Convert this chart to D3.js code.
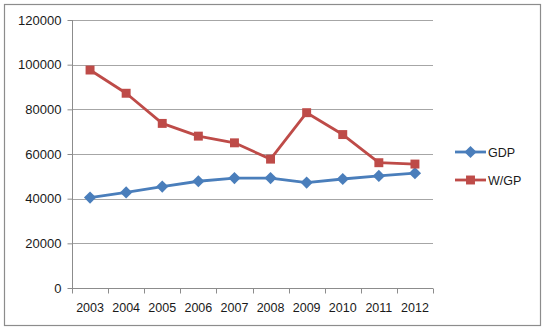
<!DOCTYPE html>
<html>
<head>
<meta charset="utf-8">
<script src="https://cdn.jsdelivr.net/npm/d3@7"></script>
<style>
  body { margin: 0; background: #fff; }
  text { font-family: "Liberation Sans", Arial, sans-serif; font-size: 12.5px; fill: #1a1a1a; }
</style>
</head>
<body>
<svg id="chart"></svg>
<script>
const years = ["2003", "2004", "2005", "2006", "2007", "2008", "2009", "2010", "2011", "2012"];
const gdp = [40500, 42800, 45400, 47800, 49200, 49200, 47200, 48800, 50200, 51400];
const wgp = [97600, 87200, 73700, 68000, 65000, 57700, 78500, 68700, 56100, 55500];
const yTicks = [0, 20000, 40000, 60000, 80000, 100000, 120000];

const width = 546, height = 332;
const margin = { left: 72, right: 113, top: 20, bottom: 44 };

const svg = d3.select("#chart")
    .attr("width", width)
    .attr("height", height)
    .attr("viewBox", [0, 0, width, height]);

// outer frame
svg.append("rect")
    .attr("x", 4.5).attr("y", 4.5)
    .attr("width", 536).attr("height", 321)
    .attr("fill", "#fff")
    .attr("stroke", "#8c8c8c")
    .attr("stroke-width", 1.2);

const x = d3.scaleBand(years, [margin.left, width - margin.right]);
const y = d3.scaleLinear([0, 120000], [height - margin.bottom, margin.top]);

// gridlines
svg.append("g")
    .selectAll("line")
    .data(yTicks.slice(1))
    .join("line")
    .attr("x1", margin.left)
    .attr("x2", width - margin.right)
    .attr("y1", d => Math.round(y(d)) + 0.5)
    .attr("y2", d => Math.round(y(d)) + 0.5)
    .attr("stroke", "#a6a6a6")
    .attr("stroke-width", 1);

// y axis
const yAxis = svg.append("g")
    .attr("transform", `translate(${margin.left + 0.5}, 0)`)
    .call(d3.axisLeft(y).tickValues(yTicks).tickSize(5).tickPadding(6).tickFormat(d => d));
yAxis.selectAll("line, path").attr("stroke", "#8c8c8c");
yAxis.selectAll("text").style("font-size", "13px").attr("fill", "#1a1a1a");
yAxis.select(".domain").attr("d", `M0,${y(0)}V${y(120000)}`);

// x axis with ticks on category boundaries
const xAxis = svg.append("g")
    .attr("transform", `translate(0, ${Math.round(y(0)) + 0.5})`);
xAxis.append("line")
    .attr("x1", margin.left).attr("x2", width - margin.right)
    .attr("stroke", "#8c8c8c");
const bounds = years.map(d => x(d)).concat([x(years[years.length - 1]) + x.bandwidth()]);
xAxis.selectAll(".tk")
    .data(bounds)
    .join("line")
    .attr("x1", d => Math.round(d) + 0.5)
    .attr("x2", d => Math.round(d) + 0.5)
    .attr("y1", 0).attr("y2", 5)
    .attr("stroke", "#8c8c8c");
xAxis.selectAll("text")
    .data(years)
    .join("text")
    .attr("x", d => x(d) + x.bandwidth() / 2)
    .attr("y", 23)
    .attr("text-anchor", "middle")
    .text(d => d);

const cx = d => x(d) + x.bandwidth() / 2;
const line = d3.line().x((d, i) => cx(years[i])).y(d => y(d));

const series = [
    { name: "GDP", values: gdp, color: "#4a7ebb", symbol: d3.symbolDiamond2, size: 95 },
    { name: "W/GP", values: wgp, color: "#be4b48", symbol: d3.symbolSquare, size: 80 }
];

series.forEach(s => {
    svg.append("path")
        .attr("fill", "none")
        .attr("stroke", s.color)
        .attr("stroke-width", 2.8)
        .attr("stroke-linejoin", "round")
        .attr("d", line(s.values));
});

const sym = s => d3.symbol(s.symbol, s.size)();

series.forEach(s => {
    svg.append("g")
        .selectAll("path")
        .data(s.values)
        .join("path")
        .attr("transform", (d, i) => `translate(${cx(years[i])}, ${y(d)})`)
        .attr("d", sym(s))
        .attr("fill", s.color);
});

// legend
const legend = svg.append("g").attr("transform", "translate(455, 152)");
series.forEach((s, i) => {
    const g = legend.append("g").attr("transform", `translate(0, ${i * 28})`);
    g.append("line")
        .attr("x1", 0).attr("x2", 31)
        .attr("stroke", s.color)
        .attr("stroke-width", 2.8);
    g.append("path")
        .attr("transform", "translate(15.5, 0)")
        .attr("d", sym(s))
        .attr("fill", s.color);
    g.append("text")
        .attr("x", 33)
        .attr("y", 4.5)
        .style("font-size", "12.5px")
        .text(s.name);
});
</script>
</body>
</html>
